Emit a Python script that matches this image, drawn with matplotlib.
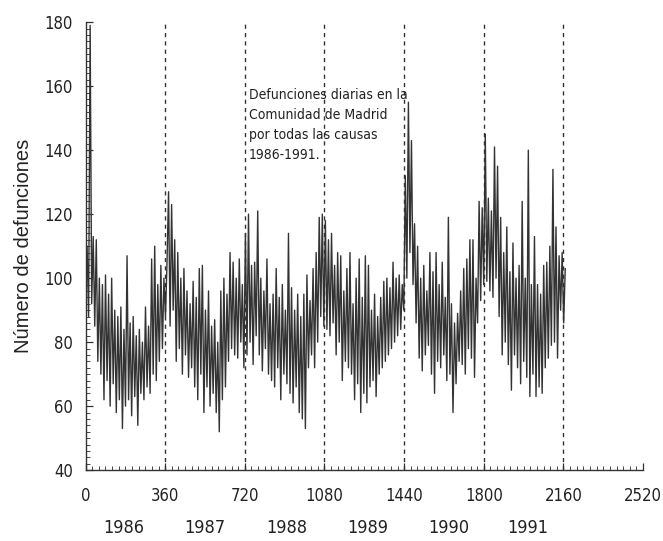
import numpy as np
import matplotlib
matplotlib.use("Agg")
import matplotlib.pyplot as plt
from matplotlib.ticker import MultipleLocator

# daily deaths, Comunidad de Madrid (about one value a week)
d1986 = [98, 110, 88, 179, 92, 113, 85, 112, 74, 100, 70, 98, 62, 101, 68, 95, 60, 100, 67, 90,
         58, 88, 62, 91, 53, 84, 60, 107, 62, 86, 57, 88, 63, 82, 54, 84, 64, 80, 62, 91,
         66, 85, 64, 106, 70, 110, 68, 98, 74, 104, 78, 100]
d1987 = [88, 105, 127, 85, 123, 90, 112, 74, 108, 78, 100, 70, 103, 76, 96, 69, 92, 72, 99, 66,
         94, 62, 103, 70, 104, 58, 90, 66, 96, 60, 85, 64, 87, 58, 80, 52, 96, 62, 100, 66,
         95, 74, 108, 78, 105, 76, 100, 75, 106, 80, 98, 72]
d1988 = [114, 76, 120, 80, 104, 73, 105, 82, 121, 76, 100, 71, 96, 78, 106, 70, 92, 68, 95, 66,
         103, 72, 94, 62, 98, 70, 90, 67, 114, 64, 97, 61, 90, 66, 95, 58, 88, 56, 95, 53,
         101, 72, 93, 76, 103, 72, 108, 80, 119, 88, 120, 85]
d1989 = [118, 84, 112, 82, 114, 86, 104, 76, 108, 80, 107, 68, 96, 74, 103, 72, 108, 70, 92, 62,
         100, 67, 106, 58, 94, 64, 107, 61, 104, 66, 90, 68, 95, 63, 88, 70, 94, 72, 99, 74,
         100, 76, 97, 78, 105, 80, 100, 82, 101, 84, 98, 90]
d1990 = [132, 100, 155, 108, 143, 98, 117, 86, 110, 75, 100, 71, 104, 76, 96, 79, 108, 70, 102, 64,
         108, 74, 98, 72, 105, 76, 94, 68, 119, 70, 92, 58, 86, 67, 89, 74, 96, 73, 103, 70,
         106, 78, 112, 75, 112, 69, 100, 86, 124, 93, 122, 98]
d1991 = [145, 99, 125, 96, 121, 94, 141, 100, 135, 88, 119, 76, 108, 80, 116, 73, 102, 65, 111, 76,
         100, 72, 104, 67, 124, 74, 100, 69, 140, 63, 98, 70, 113, 63, 98, 66, 95, 64, 104, 72,
         105, 75, 110, 79, 134, 80, 116, 75, 107, 90, 108, 86, 103]

deaths = d1986 + d1987 + d1988 + d1989 + d1990 + d1991
days = np.linspace(0, 2168, len(deaths))

year_lines = [360, 720, 1080, 1440, 1800, 2160]
years = ["1986", "1987", "1988", "1989", "1990", "1991"]
year_pos = [173, 540, 908, 1275, 1643, 2000]

cond = dict(family="DejaVu Sans", stretch="condensed")
regular = ["Liberation Sans", "DejaVu Sans"]

fig = plt.figure(figsize=(6.63, 5.41), dpi=100)
ax = fig.add_axes([0.129, 0.131, 0.841, 0.828])

ax.plot(days, deaths, color="#333333", lw=1.0)

for x in year_lines:
    ax.axvline(x, color="#333333", lw=1.0, ls=(0, (3, 3)))

ax.set_xlim(0, 2520)
ax.set_ylim(40, 180)
ax.xaxis.set_major_locator(MultipleLocator(360))
ax.xaxis.set_minor_locator(MultipleLocator(30))
ax.yaxis.set_major_locator(MultipleLocator(20))
ax.yaxis.set_minor_locator(MultipleLocator(2))

ax.spines["top"].set_visible(False)
ax.spines["right"].set_visible(False)
for s in ("left", "bottom"):
    ax.spines[s].set_color("#333333")
    ax.spines[s].set_linewidth(1.0)

ax.tick_params(which="major", direction="in", length=5, width=0.9, color="#333333")
ax.tick_params(which="minor", direction="in", length=3, width=0.7, color="#444444")
ax.tick_params(axis="x", which="major", pad=12)
ax.tick_params(axis="y", which="major", pad=9)
for lab in ax.get_xticklabels() + ax.get_yticklabels():
    lab.set_family(cond["family"])
    lab.set_stretch(cond["stretch"])
    lab.set_fontsize(12)
    lab.set_color("#222222")

ax.set_ylabel("Número de defunciones", family=regular, fontsize=14.5, color="#222222", labelpad=8)

for y, p in zip(years, year_pos):
    ax.text(p, -0.13, y, transform=ax.get_xaxis_transform(), ha="center", va="center",
            fontsize=13, color="#222222", **cond)

ax.text(738, 159.5, "Defunciones diarias en la\nComunidad de Madrid\npor todas las causas\n1986-1991.",
        ha="left", va="top", fontsize=10, color="#222222", linespacing=1.55, **cond)

plt.savefig("out.png", dpi=100)
